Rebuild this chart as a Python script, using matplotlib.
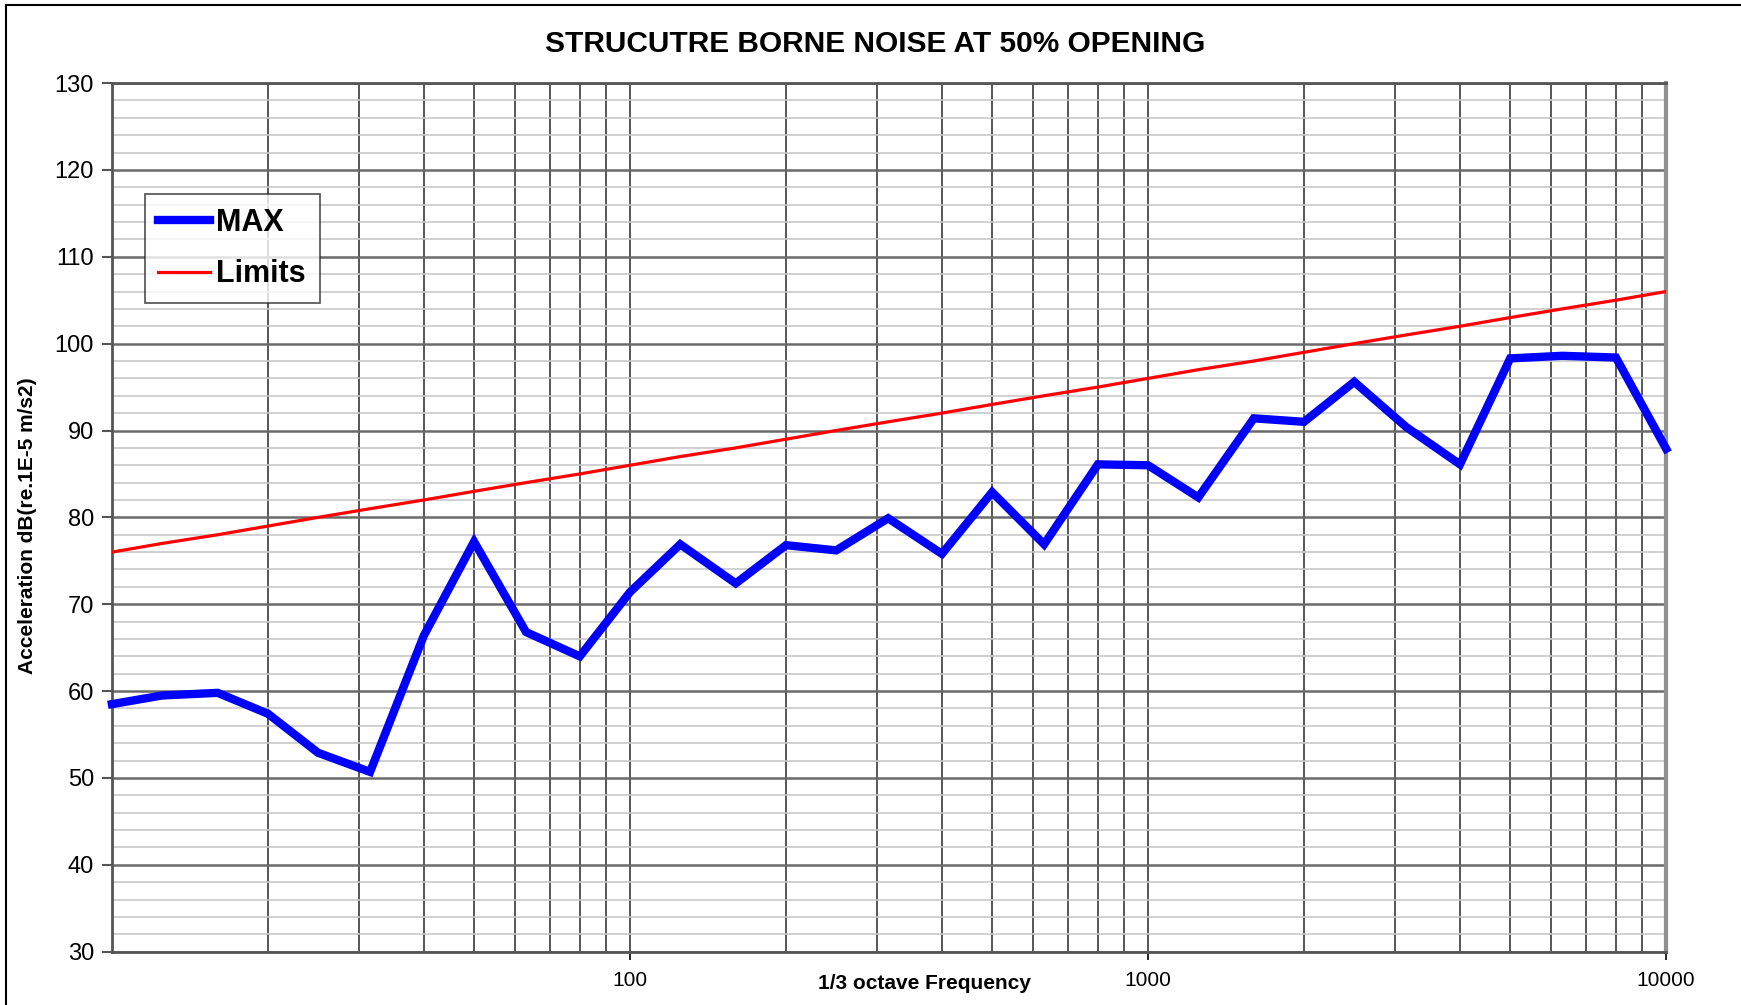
import numpy as np
import matplotlib
matplotlib.use("Agg")
import matplotlib.pyplot as plt
from matplotlib.ticker import FixedLocator, NullFormatter, LogLocator

plt.rcParams['font.family'] = ['Liberation Sans', 'DejaVu Sans']

# 1/3 octave bands
freq = [10, 12.5, 16, 20, 25, 31.5, 40, 50, 63, 80, 100, 125, 160, 200, 250,
        315, 400, 500, 630, 800, 1000, 1250, 1600, 2000, 2500, 3150, 4000,
        5000, 6300, 8000, 10000]
max_db = [58.5, 59.5, 59.8, 57.4, 52.9, 50.7, 66.4, 77.2, 66.8, 64.0, 71.4,
          76.9, 72.4, 76.8, 76.2, 79.9, 75.8, 82.9, 76.9, 86.1, 86.0, 82.3,
          91.4, 91.0, 95.6, 90.4, 86.1, 98.3, 98.6, 98.4, 87.9]
limits = [76, 77, 78, 79, 80, 81, 82, 83, 84, 85, 86, 87, 88, 89, 90, 91,
          92, 93, 94, 95, 96, 97, 98, 99, 100, 101, 102, 103, 104, 105, 106]

yticks = [30, 40, 50, 60, 70, 80, 90, 100, 110, 120, 130]
yminor = [v + d for v in yticks[:-1] for d in (2, 4, 6, 8)]
xticks = [100, 1000, 10000]
xlabels = ['100', '1000', '10000']

fig = plt.figure(figsize=(17.41, 10.05), dpi=100)
ax = fig.add_axes([0.0643, 0.053, 0.8927, 0.8644])

ax.set_xscale('log')
ax.set_xlim(10, 10000)
ax.set_ylim(30, 130)

# grid
ax.yaxis.set_major_locator(FixedLocator(yticks))
ax.yaxis.set_minor_locator(FixedLocator(yminor))
ax.xaxis.set_major_locator(FixedLocator(xticks))
ax.xaxis.set_minor_locator(LogLocator(base=10, subs=np.arange(1, 10)))
ax.xaxis.set_minor_formatter(NullFormatter())
ax.set_xticklabels(xlabels)

ax.grid(True, which='minor', axis='y', color='#c8c8c8', lw=1.2, zorder=0)
ax.grid(True, which='major', axis='y', color='#6a6a6a', lw=1.8, zorder=0)
ax.grid(True, which='both', axis='x', color='#3a3a3a', lw=1.2, zorder=0)

ax.tick_params(axis='y', which='major', length=7, width=1.5, color='#555555',
               labelsize=17, pad=6)
ax.tick_params(axis='y', which='minor', length=0)
ax.tick_params(axis='x', which='major', length=6, width=1.2, labelsize=15, pad=8)
ax.tick_params(axis='x', which='minor', length=0)

for s in ['left', 'bottom', 'top']:
    ax.spines[s].set_color('#555555')
    ax.spines[s].set_linewidth(2)
ax.spines['right'].set_color('#909090')
ax.spines['right'].set_linewidth(3)

ax.plot(freq, max_db, color='#0000ff', lw=6, solid_joinstyle='miter',
        label='MAX', zorder=3, clip_on=False)
ax.plot(freq, limits, color='#ff0000', lw=2.3, label='Limits', zorder=3)

leg = ax.legend(loc='upper left', bbox_to_anchor=(0.021, 0.872),
                prop={'weight': 'bold', 'size': 22}, frameon=True,
                fancybox=False, edgecolor='#222222', handlelength=1.7,
                handletextpad=0.2, borderpad=0.45, labelspacing=0.7,
                borderaxespad=0)
leg.get_frame().set_linewidth(1.2)

ax.set_title('STRUCUTRE BORNE NOISE AT 50% OPENING', fontsize=21.5,
             fontweight='bold', pad=22, x=0.491)
ax.set_xlabel('1/3 octave Frequency', fontsize=15, fontweight='bold')
ax.xaxis.set_label_coords(0.5225, -0.026)
ax.xaxis.label.set_va('top')
ax.set_ylabel('Acceleration dB(re.1E-5 m/s2)', fontsize=15,
              fontweight='bold')
ax.yaxis.set_label_coords(-0.048, 0.491)

# page border on left and top
fig.add_artist(plt.Line2D([0.0035, 0.0035], [0, 0.995], color='black', lw=1.5))
fig.add_artist(plt.Line2D([0.0035, 1], [0.995, 0.995], color='black', lw=1.5))

fig.savefig('out.png', dpi=100)
